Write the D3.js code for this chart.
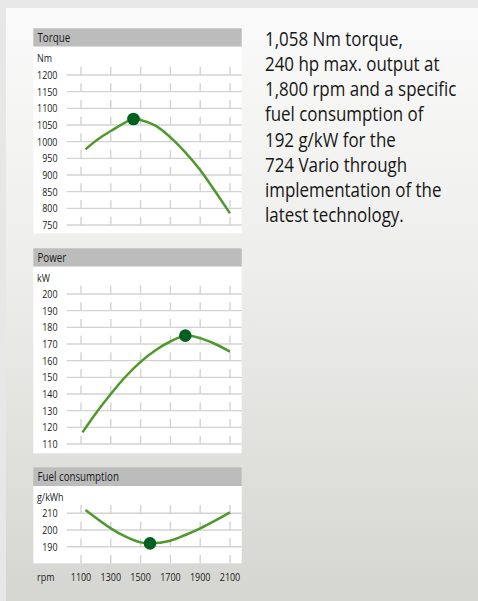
<!DOCTYPE html>
<html>
<head>
<meta charset="utf-8">
<script src="https://cdn.jsdelivr.net/npm/d3@7/dist/d3.min.js"></script>
<style>
  html, body { margin: 0; padding: 0; background: #e7e7e7; }
  svg { display: block; }
  text { font-family: "Open Sans", "Liberation Sans", sans-serif; }
</style>
</head>
<body>
<svg id="chart" width="478" height="601"></svg>
<script>
// ---- data ----
const rpmTicks = [1100, 1300, 1500, 1700, 1900, 2100];

const torqueTicks = [750, 800, 850, 900, 950, 1000, 1050, 1100, 1150, 1200];
const torqueRpm  = [1130, 1200, 1300, 1452, 1500, 1600, 1700, 1800, 1900, 2000, 2100];
const torqueNm   = [977, 1003, 1032, 1068, 1065, 1048, 1013, 968, 915, 851, 785];
const torquePeak = [1452, 1068];

const powerTicks = [110, 120, 130, 140, 150, 160, 170, 180, 190, 200];
const powerRpm   = [1110, 1200, 1300, 1400, 1500, 1600, 1700, 1800, 1900, 2000, 2100];
const powerKw    = [117, 128.5, 140, 150.5, 159.3, 166.3, 171.5, 175, 173.5, 170, 165.4];
const powerPeak  = [1800, 175];

const fuelTicks  = [190, 200, 210];
const fuelTickMarks = [180, 190, 200, 210];
const fuelRpm    = [1130, 1300, 1400, 1500, 1563, 1700, 1800, 1900, 2000, 2100];
const fuelGkwh   = [212, 201, 196, 192.6, 192, 193.6, 197, 201, 205.6, 210.6];
const fuelPeak   = [1563, 192];

const panelTitles = ["Torque", "Power", "Fuel consumption"];
const unitLabels  = ["Nm", "kW", "g/kWh"];
const axisLabel   = "rpm";

const textLines = [
  "1,058 Nm torque,",
  "240 hp max. output at",
  "1,800 rpm and a specific",
  "fuel consumption of",
  "192 g/kW for the",
  "724 Vario through",
  "implementation of the",
  "latest technology."
];

// ---- drawing ----
const svg = d3.select("#chart");
const W = 478, H = 601;
const SX = 0.8;           // horizontal condensing of the type
const SMALL = 11.2;       // chart label size
const textColor = "#1a1a1a";

const defs = svg.append("defs");
const grad = defs.append("linearGradient").attr("id", "bg").attr("x1", 0).attr("y1", 0).attr("x2", 0).attr("y2", 1);
grad.append("stop").attr("offset", "0%").attr("stop-color", "#fafafa");
grad.append("stop").attr("offset", "45%").attr("stop-color", "#ededeb");
grad.append("stop").attr("offset", "100%").attr("stop-color", "#d5d5d1");

svg.append("rect").attr("width", W).attr("height", H).attr("fill", "#e7e7e7");
svg.append("rect").attr("x", 6).attr("y", 8).attr("width", W - 6).attr("height", H - 8).attr("fill", "url(#bg)");

function label(parent, x, y, txt, size, anchor, dy) {
  const g = parent.append("g").attr("transform", `translate(${x},${y}) scale(${SX},1)`);
  g.append("text").attr("text-anchor", anchor || "start").attr("font-size", size)
    .attr("dy", dy === undefined ? "0.35em" : dy).attr("fill", textColor).text(txt);
  return g;
}

const panelLeft = 33.3, panelRight = 241.7, gridLeft = 66.7;
const x = d3.scaleLinear().domain([1100, 2100]).range([81, 230]);

const lineColor = "#4d9a2c", dotColor = "#00601f", gridColor = "#d3d3d3";

function drawPanel(cfg) {
  const g = svg.append("g");
  // header
  g.append("rect").attr("x", panelLeft).attr("y", cfg.headTop)
    .attr("width", panelRight - panelLeft).attr("height", cfg.bodyTop - cfg.headTop)
    .attr("fill", "#bcbcbc");
  label(g, 37.5, (cfg.headTop + cfg.bodyTop) / 2, cfg.title, 12.2, "start");
  // body
  g.append("rect").attr("x", panelLeft).attr("y", cfg.bodyTop)
    .attr("width", panelRight - panelLeft).attr("height", cfg.bodyBottom - cfg.bodyTop)
    .attr("fill", "#ffffff");
  label(g, 37, cfg.bodyTop + 11.3, cfg.unit, SMALL, "start");

  const y = cfg.y;
  // grid lines
  g.selectAll("line.grid").data(cfg.ticks).join("line")
    .attr("x1", gridLeft).attr("x2", panelRight)
    .attr("y1", d => y(d)).attr("y2", d => y(d))
    .attr("stroke", gridColor).attr("stroke-width", 1.4);
  // vertical tick marks
  const marks = [];
  cfg.markValues.forEach(v => rpmTicks.forEach(r => marks.push({v, r})));
  g.selectAll("line.mark").data(marks).join("line")
    .attr("x1", d => x(d.r)).attr("x2", d => x(d.r))
    .attr("y1", d => y(d.v + cfg.step / 2)).attr("y2", d => y(d.v))
    .attr("stroke", gridColor).attr("stroke-width", 1.4);
  // y labels
  cfg.ticks.forEach(t => label(g, 57.5, y(t), t, SMALL, "end"));
  // curve
  const pts = cfg.rpm.map((r, i) => [r, cfg.vals[i]]);
  const line = d3.line().x(d => x(d[0])).y(d => y(d[1])).curve(d3.curveCatmullRom.alpha(0.5));
  g.append("path").attr("d", line(pts)).attr("fill", "none")
    .attr("stroke", lineColor).attr("stroke-width", 2.5).attr("stroke-linecap", "butt");
  g.append("circle").attr("cx", x(cfg.peak[0])).attr("cy", y(cfg.peak[1])).attr("r", 6.3).attr("fill", dotColor);
}

drawPanel({
  title: panelTitles[0], unit: unitLabels[0],
  headTop: 28.3, bodyTop: 46.7, bodyBottom: 233.3,
  y: d3.scaleLinear().domain([750, 1200]).range([225, 75]),
  ticks: torqueTicks, markValues: torqueTicks, step: 50,
  rpm: torqueRpm, vals: torqueNm, peak: torquePeak
});
drawPanel({
  title: panelTitles[1], unit: unitLabels[1],
  headTop: 248.3, bodyTop: 266.7, bodyBottom: 453.3,
  y: d3.scaleLinear().domain([110, 200]).range([444, 294]),
  ticks: powerTicks, markValues: powerTicks, step: 10,
  rpm: powerRpm, vals: powerKw, peak: powerPeak
});
drawPanel({
  title: panelTitles[2], unit: unitLabels[2],
  headTop: 467.3, bodyTop: 486, bodyBottom: 563.3,
  y: d3.scaleLinear().domain([190, 210]).range([546.7, 513.3]),
  ticks: fuelTicks, markValues: fuelTickMarks, step: 10,
  rpm: fuelRpm, vals: fuelGkwh, peak: fuelPeak
});

// x axis labels
label(svg, 37, 576.7, axisLabel, SMALL, "start");
rpmTicks.forEach(r => label(svg, x(r), 576.7, r, SMALL, "middle"));

// description text
const desc = svg.append("g");
textLines.forEach((t, i) => {
  const g = desc.append("g").attr("transform", `translate(265,${46 + i * 25.15}) scale(0.855,1)`);
  g.append("text").attr("font-size", 19.8).attr("fill", "#161616").text(t);
});
</script>
</body>
</html>
